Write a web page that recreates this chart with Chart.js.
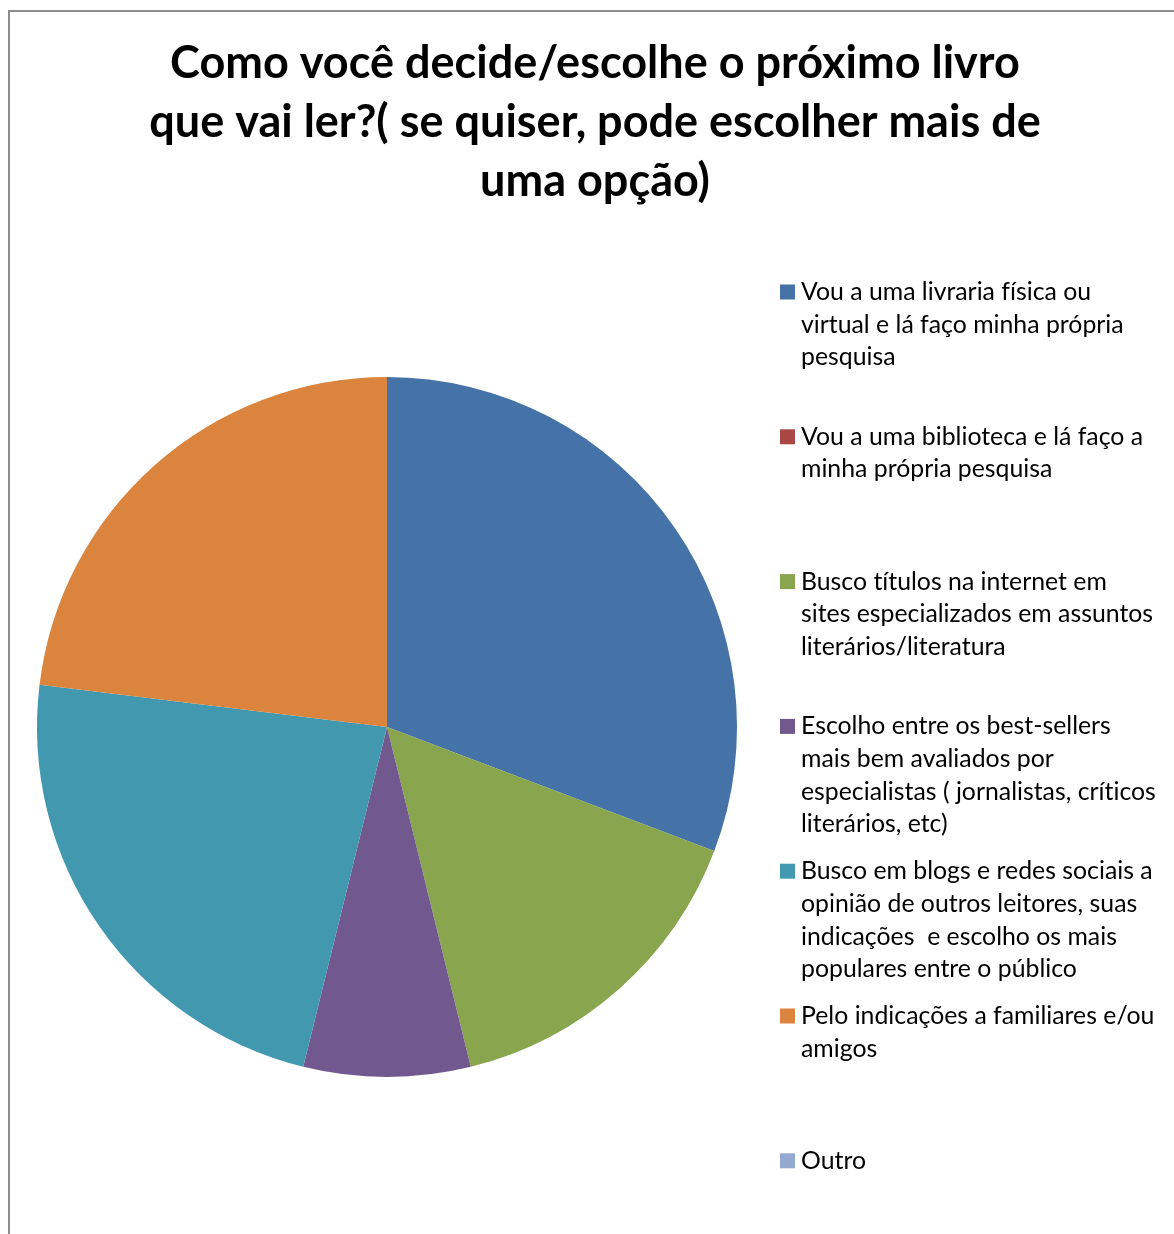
<!DOCTYPE html>
<html>
<head>
<meta charset="utf-8">
<script src="https://cdn.jsdelivr.net/npm/chart.js@4.4.1/dist/chart.umd.min.js"></script>
<style>
  html, body { margin: 0; padding: 0; background: #fff; overflow: hidden; }
  #frame { position: absolute; left: 8px; top: 10px; width: 1300px; height: 1400px; border: 2px solid #8c8c8c; box-sizing: border-box; }
  #wrap { position: absolute; left: 0; top: 0; width: 1174px; height: 1234px; }
</style>
</head>
<body>
<div id="frame"></div>
<div id="wrap"><canvas id="c" width="1174" height="1234"></canvas></div>
<script>
const titleLines = [
  "Como você decide/escolhe o próximo livro",
  "que vai ler?( se quiser, pode escolher mais de",
  "uma opção)"
];
const categories = [
  ["Vou a uma livraria física ou", "virtual e lá faço minha própria", "pesquisa"],
  ["Vou a uma biblioteca e lá faço a", "minha própria pesquisa"],
  ["Busco títulos na internet em", "sites especializados em assuntos", "literários/literatura"],
  ["Escolho entre os best-sellers", "mais bem avaliados por", "especialistas ( jornalistas, críticos", "literários, etc)"],
  ["Busco em blogs e redes sociais a", "opinião de outros leitores, suas", "indicações  e escolho os mais", "populares entre o público"],
  ["Pelo indicações a familiares e/ou", "amigos"],
  ["Outro"]
];
const values = [4, 0, 2, 1, 3, 3, 0];
const colors = ["#4572A7", "#AA4643", "#89A54E", "#71588F", "#4198AF", "#DB843D", "#93A9CF"];

const FONT = "Lato, 'Open Sans', sans-serif";

const textPlugin = {
  id: 'textPlugin',
  afterDraw(chart) {
    const ctx = chart.ctx;
    ctx.save();
    if ('letterSpacing' in ctx) ctx.letterSpacing = '0.01px';
    // Title
    ctx.fillStyle = '#000';
    ctx.font = "bold 45px " + FONT;
    ctx.textAlign = 'center';
    ctx.textBaseline = 'middle';
    titleLines.forEach((t, i) => ctx.fillText(t, 595, 63 + i * 59));
    // Legend
    ctx.font = "24.8px " + FONT;
    ctx.textAlign = 'left';
    categories.forEach((lines, i) => {
      const y0 = 292 + i * 144.8;
      ctx.fillStyle = colors[i];
      ctx.fillRect(780, y0 - 7.5, 15, 15);
      ctx.fillStyle = '#000';
      lines.forEach((ln, j) => ctx.fillText(ln, 801, y0 + j * 32.7));
    });
    ctx.restore();
  }
};

new Chart(document.getElementById('c'), {
  type: 'pie',
  data: {
    labels: categories.map(l => l.join(' ')),
    datasets: [{
      data: values,
      backgroundColor: colors,
      borderWidth: 0
    }]
  },
  options: {
    responsive: false,
    animation: false,
    layout: { padding: { left: 37, right: 1174 - 737, top: 377, bottom: 1234 - 1077 } },
    plugins: { legend: { display: false }, title: { display: false }, tooltip: { enabled: false } }
  },
  plugins: [textPlugin]
});
</script>
</body>
</html>
